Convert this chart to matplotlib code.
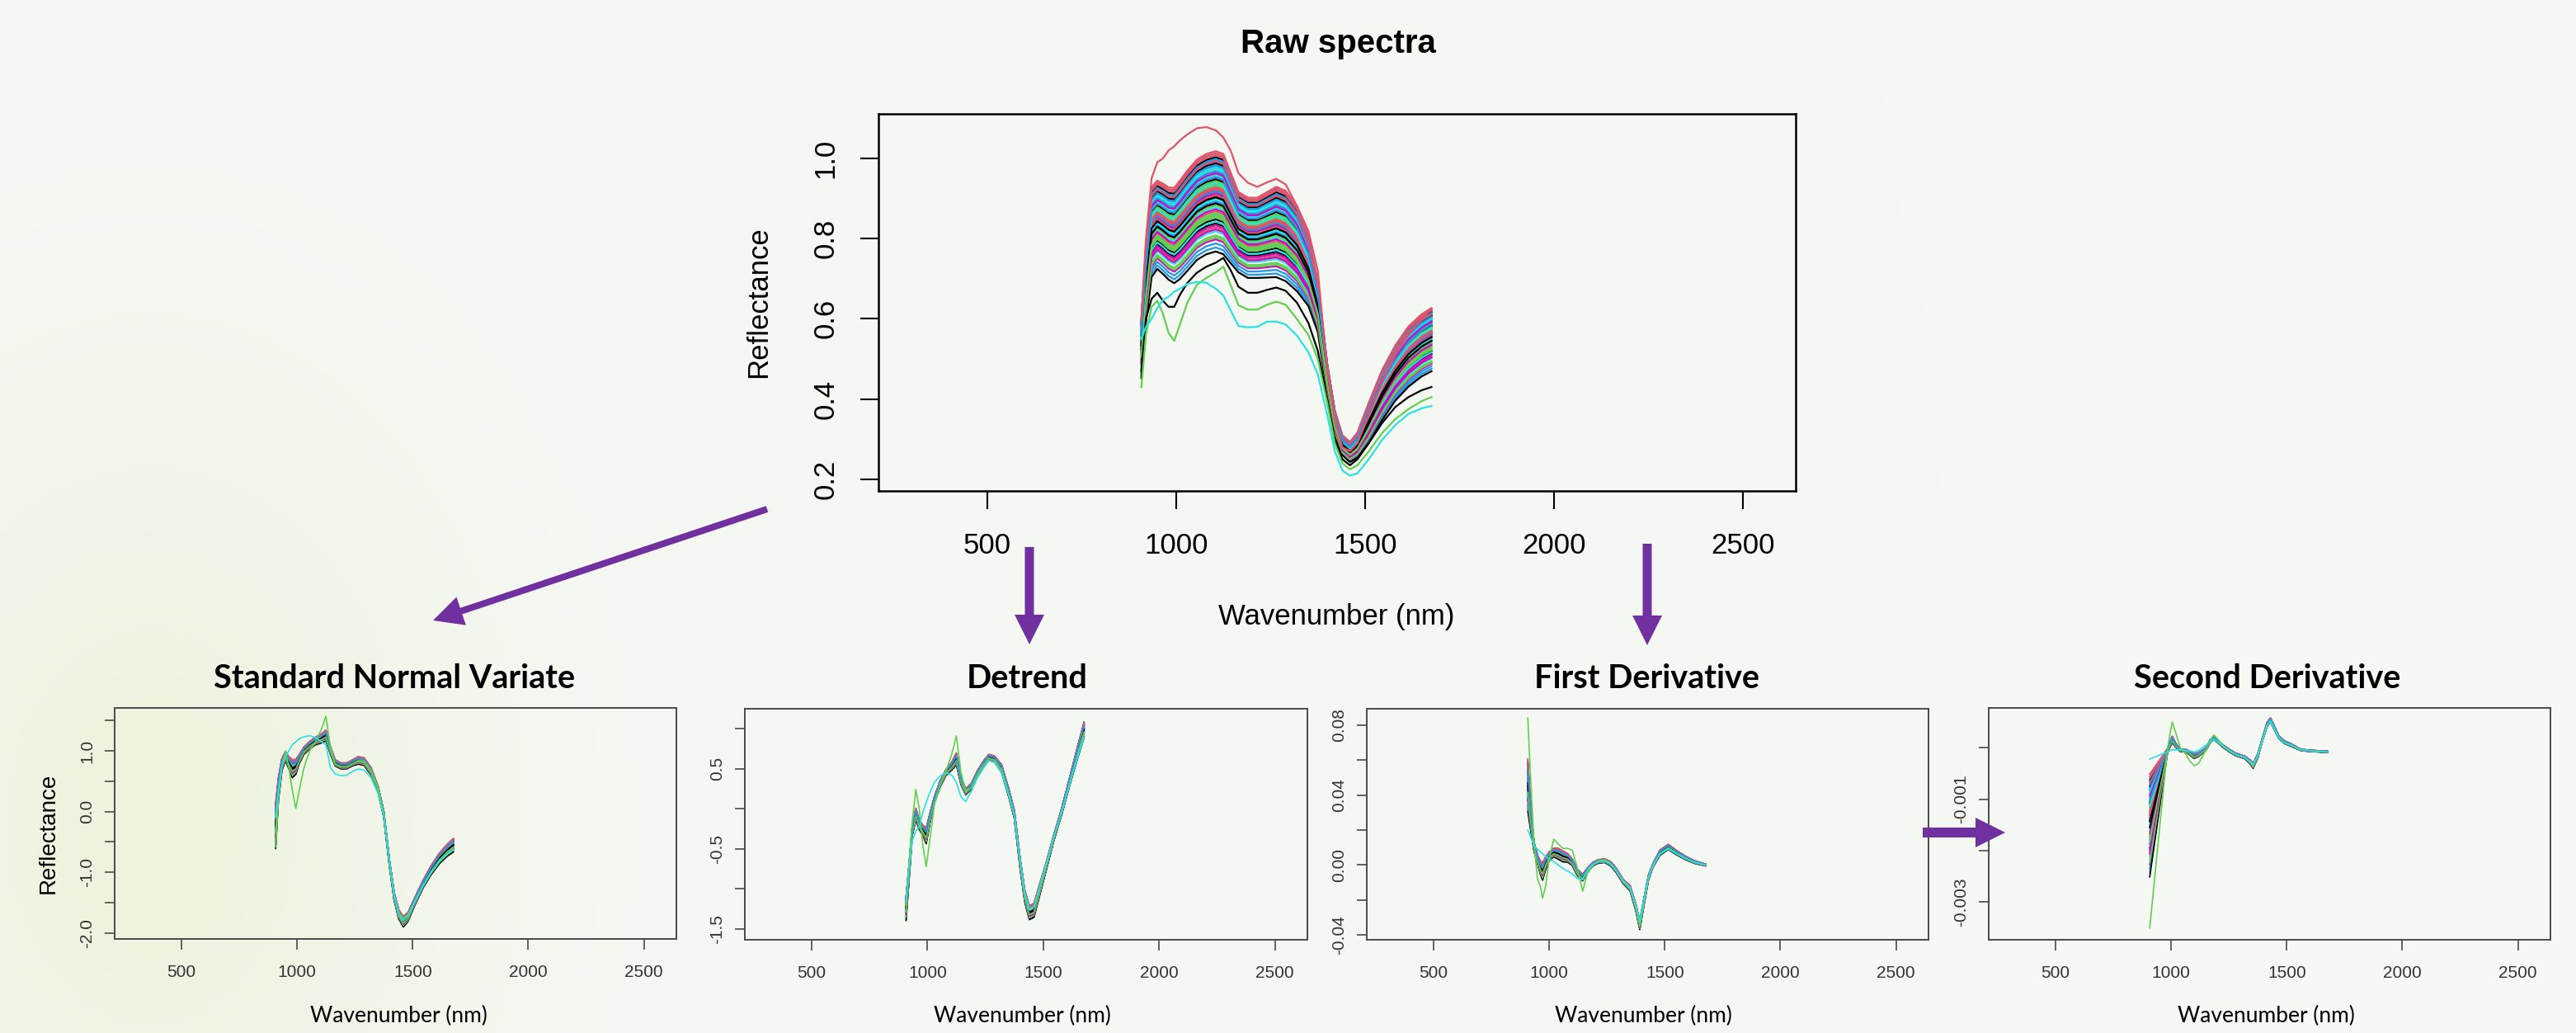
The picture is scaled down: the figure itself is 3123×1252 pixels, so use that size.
import numpy as np
import matplotlib.pyplot as plt
from matplotlib.patches import FancyArrow

W, H = 3123, 1252

# R default palette used by matplot (col = 1:6)
r_cols = ['#000000', '#DF536B', '#61D04F', '#2297E6', '#28E2E5', '#CD0BBC']

# sample levels (position of each spectrum inside the band)
levels = [0.9, 1.1, 0.4, -0.3, 1.2, 0.7, 0.2, -0.6, 1.0, 0.5, -0.1, 0.8, 0.3, 1.3,
          -0.8, 0.6, 1.1, 0.0, -0.4, 0.9, 0.45, -1.0, 0.75, 1.05, 0.15, -0.2, 0.55,
          0.95, -0.7, 0.35, 1.15, 0.65, -0.05, -1.1, 0.85, 0.25, -0.5, 1.25, 0.5,
          0.05, 0.7, -0.9, 1.0, 0.4, -0.25, 0.8, 0.1, -0.65, 0.6, 1.2, -0.35, 0.3,
          0.9, -0.15, -1.2, 0.2, 0.55, 1.1, -0.45, 0.75, 0.0, 0.35, -0.85, 0.95,
          0.5, -0.55, 0.15, 1.05, -0.3, 0.65]

wl = [908, 920, 935, 950, 965, 980, 995, 1010, 1030, 1055, 1080, 1105, 1125, 1145,
      1165, 1190, 1215, 1240, 1265, 1290, 1320, 1350, 1375, 1400, 1420, 1440, 1460,
      1480, 1510, 1545, 1580, 1615, 1650, 1676]

# ---- raw spectra
raw_mean = [0.524, 0.682, 0.812, 0.83, 0.82, 0.808, 0.803, 0.817, 0.84, 0.867, 0.881,
            0.888, 0.881, 0.846, 0.812, 0.798, 0.798, 0.805, 0.812, 0.802, 0.771, 0.716,
            0.627, 0.449, 0.339, 0.284, 0.267, 0.284, 0.339, 0.407, 0.462, 0.503, 0.531,
            0.545]
raw_spread = [0.06, 0.075, 0.09, 0.088, 0.09, 0.092, 0.095, 0.098, 0.10, 0.10, 0.10,
              0.10, 0.10, 0.09, 0.08, 0.08, 0.08, 0.085, 0.09, 0.09, 0.085, 0.07, 0.05,
              0.03, 0.025, 0.02, 0.02, 0.025, 0.04, 0.05, 0.055, 0.06, 0.062, 0.063]
raw_red = [0.60, 0.80, 0.95, 0.99, 1.00, 1.02, 1.03, 1.045, 1.06, 1.075, 1.078, 1.07,
           1.052, 1.018, 0.963, 0.939, 0.929, 0.94, 0.949, 0.935, 0.881, 0.819, 0.72,
           0.47, 0.35, 0.28, 0.27, 0.29, 0.36, 0.44, 0.51, 0.56, 0.60, 0.625]
raw_cyan = [0.55, 0.58, 0.60, 0.627, 0.647, 0.655, 0.668, 0.675, 0.687, 0.692, 0.69,
            0.675, 0.658, 0.62, 0.582, 0.579, 0.58, 0.593, 0.593, 0.586, 0.558, 0.517,
            0.462, 0.36, 0.27, 0.222, 0.209, 0.215, 0.25, 0.298, 0.335, 0.363, 0.377,
            0.383]
raw_green = [0.43, 0.56, 0.63, 0.645, 0.613, 0.565, 0.545, 0.586, 0.641, 0.685, 0.702,
             0.716, 0.73, 0.682, 0.634, 0.623, 0.623, 0.635, 0.643, 0.635, 0.599, 0.56,
             0.50, 0.39, 0.29, 0.24, 0.225, 0.235, 0.27, 0.315, 0.35, 0.375, 0.395, 0.405]
raw_black = [0.47, 0.60, 0.65, 0.665, 0.645, 0.63, 0.63, 0.66, 0.69, 0.715, 0.73, 0.74,
             0.752, 0.72, 0.68, 0.665, 0.665, 0.672, 0.678, 0.67, 0.64, 0.59, 0.52, 0.40,
             0.30, 0.25, 0.235, 0.25, 0.29, 0.34, 0.38, 0.405, 0.422, 0.43]

# ---- standard normal variate
snv_mean = [-0.25, 0.37, 0.77, 0.91, 0.80, 0.70, 0.73, 0.86, 1.0, 1.09, 1.16, 1.2, 1.25,
            1.0, 0.80, 0.75, 0.75, 0.80, 0.84, 0.82, 0.66, 0.37, -0.04, -0.86, -1.40,
            -1.70, -1.82, -1.74, -1.48, -1.20, -0.97, -0.78, -0.64, -0.56]
snv_spread = [0.3, 0.15, 0.08, 0.06, 0.08, 0.12, 0.10, 0.06, 0.05, 0.05, 0.05, 0.06,
              0.07, 0.05, 0.04, 0.04, 0.04, 0.04, 0.05, 0.05, 0.05, 0.04, 0.04, 0.04,
              0.05, 0.06, 0.07, 0.06, 0.05, 0.05, 0.06, 0.07, 0.08, 0.09]
snv_green = [-0.58, 0.25, 0.75, 1.0, 0.72, 0.35, 0.05, 0.35, 0.72, 1.0, 1.15, 1.35, 1.57,
             1.05, 0.78, 0.74, 0.74, 0.79, 0.84, 0.83, 0.68, 0.40, -0.02, -0.85, -1.38,
             -1.66, -1.76, -1.70, -1.48, -1.22, -1.00, -0.82, -0.69, -0.62]
snv_cyan = [-0.1, 0.35, 0.75, 0.9, 1.0, 1.1, 1.15, 1.2, 1.23, 1.25, 1.22, 1.15, 1.10,
            0.72, 0.62, 0.59, 0.60, 0.66, 0.70, 0.68, 0.56, 0.30, -0.07, -0.85, -1.40,
            -1.70, -1.80, -1.72, -1.48, -1.22, -1.00, -0.82, -0.70, -0.63]

# ---- detrend
det_mean = [-1.25, -0.82, -0.27, -0.07, -0.20, -0.27, -0.34, -0.13, 0.11, 0.31, 0.45,
            0.53, 0.62, 0.35, 0.21, 0.28, 0.43, 0.55, 0.64, 0.62, 0.50, 0.21, -0.07,
            -0.68, -1.09, -1.30, -1.27, -1.06, -0.75, -0.37, -0.03, 0.35, 0.72, 0.98]
det_spread = [0.12, 0.08, 0.05, 0.06, 0.05, 0.05, 0.08, 0.05, 0.03, 0.03, 0.03, 0.04,
              0.06, 0.04, 0.03, 0.03, 0.03, 0.03, 0.03, 0.03, 0.04, 0.04, 0.04, 0.05,
              0.06, 0.07, 0.07, 0.06, 0.04, 0.03, 0.03, 0.04, 0.06, 0.08]
det_green = [-1.2, -0.7, -0.15, 0.24, 0.0, -0.45, -0.72, -0.4, 0.05, 0.30, 0.47, 0.68,
             0.91, 0.45, 0.22, 0.27, 0.42, 0.54, 0.63, 0.61, 0.49, 0.20, -0.08, -0.66,
             -1.05, -1.25, -1.22, -1.02, -0.73, -0.36, -0.03, 0.33, 0.69, 0.93]
det_cyan = [-1.15, -0.75, -0.40, -0.28, -0.22, -0.05, 0.08, 0.20, 0.33, 0.41, 0.45,
            0.42, 0.33, 0.15, 0.09, 0.22, 0.38, 0.50, 0.60, 0.58, 0.45, 0.18, -0.08,
            -0.65, -1.05, -1.26, -1.22, -1.02, -0.72, -0.36, -0.04, 0.32, 0.66, 0.88]

# ---- first derivative
fd_wl = [908, 920, 935, 950, 962, 972, 985, 1000, 1020, 1040, 1060, 1080, 1100, 1120,
         1145, 1165, 1190, 1215, 1240, 1265, 1290, 1320, 1350, 1375, 1392, 1410, 1430,
         1450, 1480, 1515, 1550, 1590, 1630, 1676]
fd_mean = [0.045, 0.0275, 0.0103, 0.0032, -0.0015, -0.0039, 0.0008, 0.0048, 0.0071,
           0.0063, 0.0048, 0.004, 0.0016, -0.0039, -0.0073, -0.0031, 0.0005, 0.0021,
           0.0024, 0.0008, -0.0031, -0.0094, -0.0133, -0.0243, -0.0345, -0.0212,
           -0.007, 0.0, 0.0071, 0.0103, 0.0071, 0.004, 0.0016, 0.0]
fd_spread = [0.012, 0.006, 0.002, 0.002, 0.003, 0.004, 0.003, 0.002, 0.002, 0.0025,
             0.0025, 0.002, 0.0015, 0.0015, 0.0015, 0.001, 0.0008, 0.0008, 0.0008,
             0.001, 0.001, 0.001, 0.0012, 0.0015, 0.002, 0.0015, 0.001, 0.0008, 0.0012,
             0.0012, 0.001, 0.0008, 0.0006, 0.0004]
fd_green = [0.084, 0.05, 0.012, -0.008, -0.012, -0.019, -0.012, 0.003, 0.0148, 0.012,
            0.0095, 0.0095, 0.0085, -0.0005, -0.015, -0.005, 0.0, 0.0025, 0.003, 0.001,
            -0.003, -0.009, -0.013, -0.024, -0.034, -0.021, -0.007, 0.0, 0.0065, 0.0095,
            0.0068, 0.0038, 0.0015, 0.0]
fd_cyan = [0.020, 0.016, 0.011, 0.009, 0.0075, 0.0065, 0.005, 0.0035, 0.002, 0.0, -0.002,
           -0.0035, -0.005, -0.0075, -0.0085, -0.003, 0.0005, 0.002, 0.0022, 0.0006,
           -0.003, -0.009, -0.013, -0.023, -0.032, -0.020, -0.0068, 0.0, 0.0065, 0.0092,
           0.0065, 0.0037, 0.0015, 0.0]

# ---- second derivative
sd_wl = [908, 985, 1005, 1020, 1040, 1060, 1080, 1100, 1120, 1150, 1170, 1185, 1200,
         1225, 1250, 1280, 1300, 1320, 1340, 1355, 1375, 1395, 1415, 1430, 1445, 1465,
         1490, 1520, 1560, 1600, 1640, 1676]
sd_mean = [-0.00155, -0.00005, 0.00016, 0.00005, -0.00005, -0.00005, -0.0001, -0.00016,
           -0.00013, -0.00003, 0.00013, 0.00019, 0.00013, 0.00003, -0.00005, -0.00013,
           -0.00016, -0.00019, -0.00027, -0.00035, -0.00016, 0.00016, 0.00045, 0.00054,
           0.0004, 0.00021, 0.00011, 0.00005, -0.00004, -0.00006, -0.00007, -0.00008]
sd_spread = [0.0008, 0.00003, 0.00005, 0.00003, 0.00002, 0.00002, 0.00003, 0.00004,
             0.00003, 0.00002, 0.00002, 0.00002, 0.00002, 0.00002, 0.00002, 0.00002,
             0.00002, 0.00002, 0.00003, 0.00004, 0.00003, 0.00002, 0.00003, 0.00003,
             0.00003, 0.00002, 0.00002, 0.00002, 0.00001, 0.00001, 0.00001, 0.00001]
sd_green = [-0.0035, 0.0, 0.0005, 0.0003, 0.0, -0.0001, -0.00025, -0.00035, -0.0003,
            -0.00005, 0.00015, 0.00025, 0.00018, 0.00004, -0.00005, -0.00013, -0.00016,
            -0.00019, -0.00027, -0.00034, -0.00016, 0.00016, 0.00044, 0.00052, 0.00039,
            0.0002, 0.0001, 0.00005, -0.00004, -0.00006, -0.00007, -0.00008]
sd_cyan = [-0.00022, -0.00008, -0.00004, -0.00004, -0.00004, -0.00005, -0.00006,
           -0.00008, -0.00005, 0.00005, 0.00012, 0.00016, 0.00012, 0.00003, -0.00005,
           -0.00013, -0.00016, -0.00019, -0.00026, -0.00033, -0.00016, 0.00015, 0.00043,
           0.00051, 0.00038, 0.0002, 0.0001, 0.00005, -0.00004, -0.00006, -0.00007,
           -0.00008]

xticks = [500, 1000, 1500, 2000, 2500]
arrow_col = '#7030A0'


def rect(l, t, r, b):
    return [l / W, 1 - b / H, (r - l) / W, (b - t) / H]


def px(x, y):
    return x / W, 1 - y / H


fig = plt.figure(figsize=(W / 100, H / 100), dpi=100)

# pale slide background with a soft yellow-green patch on the left
bg = fig.add_axes([0, 0, 1, 1])
bg.axis('off')
yy, xx = np.mgrid[0:H:4, 0:W:4]
blob = np.exp(-(((xx - 180) / 380.0) ** 2 + ((yy - 1000) / 520.0) ** 2))
base = np.array([246, 248, 244]) / 255.0
tint = np.array([238, 243, 223]) / 255.0
bg.imshow(base + (tint - base) * blob[..., None], extent=[0, W, H, 0], aspect='auto')
bg.set_xlim(0, W)
bg.set_ylim(H, 0)


def panel(box, x, mean, spread, extras, ylim, yticks, ylabels, lw, big=False):
    ax = fig.add_axes(rect(*box))
    ax.patch.set_alpha(0)
    m = np.array(mean)
    s = np.array(spread)
    for i, k in enumerate(levels):
        ax.plot(x, m + k * s, color=r_cols[i % 6], lw=lw)
    for vals, c in extras:
        ax.plot(x, vals, color=c, lw=lw)
    ax.set_xlim(212, 2640)
    ax.set_ylim(*ylim)
    ax.set_xticks(xticks)
    ax.set_xticklabels([str(t) for t in xticks], family='Liberation Sans')
    ax.set_yticks(yticks)
    ax.set_yticklabels(ylabels, rotation=90, va='center', family='Liberation Sans')
    if big:
        for sp in ax.spines.values():
            sp.set_linewidth(1.8)
            sp.set_color('black')
        ax.tick_params(axis='both', length=16, width=1.5, labelsize=25, color='black')
        ax.tick_params(axis='x', pad=20)
        ax.tick_params(axis='y', pad=18)
    else:
        for sp in ax.spines.values():
            sp.set_linewidth(1.4)
            sp.set_color('#4a4a4a')
        ax.tick_params(axis='both', length=9, width=1.2, labelsize=15,
                       color='#4a4a4a', labelcolor='#333333')
        ax.tick_params(axis='x', pad=13)
        ax.tick_params(axis='y', pad=8)
    return ax


panel((1065, 138, 2177, 595), wl, raw_mean, raw_spread,
      [(raw_black, r_cols[0]), (raw_green, r_cols[2]), (raw_cyan, r_cols[4]),
       (raw_red, r_cols[1])],
      (0.171, 1.111), [0.2, 0.4, 0.6, 0.8, 1.0], ['0.2', '0.4', '0.6', '0.8', '1.0'],
      1.6, big=True)

panel((139, 858, 820, 1138), wl, snv_mean, snv_spread,
      [(snv_green, r_cols[2]), (snv_cyan, r_cols[4])],
      (-2.10, 1.707), [-2.0, -1.5, -1.0, -0.5, 0.0, 0.5, 1.0, 1.5],
      ['-2.0', '', '-1.0', '', '0.0', '', '1.0', ''], 1.2)

panel((903, 859, 1585, 1139), wl, det_mean, det_spread,
      [(det_green, r_cols[2]), (det_cyan, r_cols[4])],
      (-1.634, 1.248), [-1.5, -1.0, -0.5, 0.0, 0.5, 1.0],
      ['-1.5', '', '-0.5', '', '0.5', ''], 1.2)

panel((1657, 859, 2338, 1139), fd_wl, fd_mean, fd_spread,
      [(fd_green, r_cols[2]), (fd_cyan, r_cols[4])],
      (-0.0427, 0.0893), [-0.04, -0.02, 0.0, 0.02, 0.04, 0.06, 0.08],
      ['-0.04', '', '0.00', '', '0.04', '', '0.08'], 1.2)

panel((2411, 858, 3092, 1139), sd_wl, sd_mean, sd_spread,
      [(sd_green, r_cols[2]), (sd_cyan, r_cols[4])],
      (-0.00373, 0.000775), [-0.003, -0.002, -0.001, 0.0],
      ['-0.003', '', '-0.001', ''], 1.2)

# titles and axis labels
fig.text(*px(1622, 53), 'Raw spectra', ha='center', va='center', fontsize=29,
         fontweight='bold', family='Liberation Sans')
fig.text(*px(920, 366), 'Reflectance', ha='center', va='center', rotation=90,
         fontsize=25, family='Liberation Sans')
fig.text(*px(1620, 747), 'Wavenumber (nm)', ha='center', va='center', fontsize=25,
         family='Liberation Sans')
fig.text(*px(59, 1010), 'Reflectance', ha='center', va='center', rotation=90,
         fontsize=20, family='Liberation Sans')

titles = ['Standard Normal Variate', 'Detrend', 'First Derivative', 'Second Derivative']
title_x = [478, 1245, 1996, 2749]
label_x = [483, 1239, 1992, 2747]
for t, tx, lx in zip(titles, title_x, label_x):
    fig.text(*px(tx, 822), t, ha='center', va='center', fontsize=28.5,
             fontweight='bold', family='Lato')
    fig.text(*px(lx, 1231), 'Wavenumber (nm)', ha='center', va='center', fontsize=19,
             family='Lato')

# purple flow arrows
ov = fig.add_axes([0, 0, 1, 1])
ov.axis('off')
ov.patch.set_alpha(0)
ov.set_xlim(0, W)
ov.set_ylim(H, 0)
arrows = [((930, 617), (525, 752), 8),
          ((1248, 663), (1248, 781), 11),
          ((1997, 659), (1997, 782), 11),
          ((2331, 1009), (2431, 1009), 12)]
for (x0, y0), (x1, y1), w in arrows:
    ov.add_patch(FancyArrow(x0, y0, x1 - x0, y1 - y0, width=w, head_width=36,
                            head_length=36, length_includes_head=True,
                            color=arrow_col, lw=0))

fig.savefig('out.png', dpi=100)
